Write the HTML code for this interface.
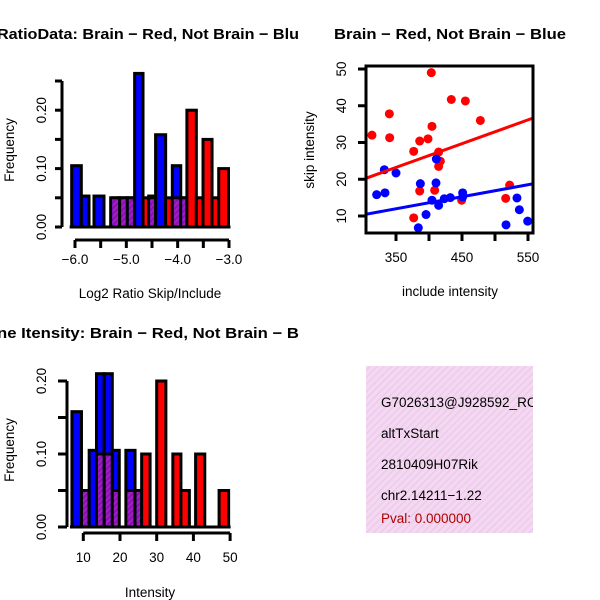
<!DOCTYPE html>
<html><head><meta charset="utf-8"><style>
html,body{margin:0;padding:0;background:#fff;}
svg{display:block;font-family:"Liberation Sans",sans-serif;}
</style></head><body>
<svg id="svg" width="600" height="600" viewBox="0 0 600 600">
<defs>
<pattern id="hatch" width="4" height="4" patternUnits="userSpaceOnUse" patternTransform="rotate(45)">
<rect width="4" height="4" fill="#8a10b4"/><rect width="2" height="4" fill="#a020c0"/></pattern>
<pattern id="pink" width="5" height="5" patternUnits="userSpaceOnUse" patternTransform="rotate(45)">
<rect width="5" height="5" fill="#f6d6f6"/><rect width="1.5" height="5" fill="#e8cfe0"/></pattern>
</defs>
<g id="p1"></g>
<g id="p2"></g>
<g id="p3"></g>
<g id="p4">
<rect x="366" y="366" width="167" height="167" fill="url(#pink)"/>
<svg x="366" y="366" width="167" height="167" overflow="hidden">
<text x="15" y="41" font-size="13.5">G7026313@J928592_RC</text>
<text x="15" y="72" font-size="13.5">altTxStart</text>
<text x="15" y="103" font-size="13.5">2810409H07Rik</text>
<text x="15" y="134" font-size="13.5">chr2.14211−1.22</text>
<text x="15" y="157" font-size="13.5" fill="#b00000">Pval: 0.000000</text>
</svg>
</g>
</svg>
<script>
// ---- Histogram 1 data ----
const h1Breaks=[-6.065,-5.877,-5.727,-5.63,-5.435,-5.305,-5.13,-4.98,-4.838,-4.675,-4.565,-4.43,-4.234,-4.104,-3.94,-3.82,-3.636,-3.506,-3.33,-3.2,-3.01];
const h1Blue=[0.105,0.053,0,0.053,0,0.05,0.05,0.05,0.263,0,0.053,0.158,0,0.105,0.05,0,0,0,0,0];
const h1Red=[0,0,0,0,0,0.05,0.05,0.05,0,0.05,0.05,0,0.05,0.05,0.05,0.2,0.05,0.15,0.05,0.1];
const h1XTicks=[-6,-5.5,-5,-4.5,-4,-3.5,-3];
const h1XLabels=["−6.0","−5.0","−4.0","−3.0"];
const h1XLabelVals=[-6,-5,-4,-3];
const h1YTicks=[0,0.05,0.1,0.15,0.2,0.25];
const h1YLabels=["0.00","0.10","0.20"];
// ---- Scatter data ----
const redX=[313.6,339.9,340.4,376.8,385.9,398.5,403.5,404.5,385.9,376.8,408.6,414.6,417.2,414.6,433.8,455.1,477.8,449.5,516.2,522.2];
const redY=[32.0,37.8,31.3,27.6,30.4,31.0,49.0,34.4,16.8,9.5,17.0,27.4,24.9,23.5,41.7,41.3,36.0,14.3,14.8,18.4];
const blueX=[320.7,333.3,332.3,350,386.9,410.6,411.1,404.5,414.6,423.2,432.3,395.5,383.8,451,451,516.7,533.3,536.9,549.5];
const blueY=[15.8,16.3,22.6,21.7,18.8,19.0,25.5,14.3,12.9,14.7,15.0,10.4,6.8,16.3,15.2,7.6,14.9,11.7,8.6];
const redFit=[0.57,0.0647];
const blueFit=[0.52,0.0327];
const scXTicks=[350,400,450,500,550];
const scXLabels=[350,450,550];
const scYTicks=[10,20,30,40,50];
// ---- Histogram 2 data ----
const h2Breaks=[6.9,9.5,11.6,13.6,15.7,17.9,19.8,21.6,24.1,25.9,28.2,30,32.5,34.4,36.6,38.9,40.6,43.1,47,49.6];
const h2Blue=[0.158,0.05,0.105,0.21,0.21,0.105,0,0.105,0.05,0,0,0,0,0,0,0,0,0,0];
const h2Red=[0,0.05,0,0.1,0.1,0.05,0,0.05,0.05,0.1,0,0.2,0,0.1,0.05,0,0.1,0,0.05];
const h2XTicks=[10,20,30,40,50];
const h2YTicks=[0,0.05,0.1,0.15,0.2];
const h2YLabels=["0.00","0.10","0.20"];

const FS=13.5;
const NS="http://www.w3.org/2000/svg";
function mk(parent,tag,attrs,txt){const e=document.createElementNS(NS,tag);for(const k in attrs)e.setAttribute(k,attrs[k]);if(txt!==undefined)e.textContent=txt;parent.appendChild(e);return e;}

function hist(g,breaks,blue,red,sx,sy,base){
  for(let i=0;i<blue.length;i++){
    const x0=sx(breaks[i]),x1=sx(breaks[i+1]);
    const b=blue[i],r=red[i];
    const lo=Math.min(b,r),hi=Math.max(b,r);
    if(hi<=0)continue;
    const top=mk(g,'rect',{x:x0,y:sy(hi),width:x1-x0,height:base-sy(hi),fill:b>=r?'#0000ff':'#ff0000',stroke:'#000','stroke-width':3});
    
    
    if(lo>0){
      const ov=mk(g,'rect',{x:x0+1.5,y:sy(lo),width:x1-x0-3,height:base-sy(lo)-1.5,fill:'url(#hatch)',stroke:'#000','stroke-width':0});
      
      
      mk(g,'line',{x1:x0,x2:x1,y1:sy(lo),y2:sy(lo),stroke:'#000','stroke-width':3});
    }
  }
  mk(g,'line',{x1:sx(breaks[0])-2,x2:sx(breaks[breaks.length-1])+2,y1:base,y2:base,stroke:'#000','stroke-width':3});
}

// Panel 1
(function(){
  const g=document.getElementById('p1');
  const sx=v=>75+(v+6)*51.33, sy=v=>227-v*584;
  hist(g,h1Breaks,h1Blue,h1Red,sx,sy,227);
  mk(g,'line',{x1:75,x2:229,y1:240,y2:240,stroke:'#000','stroke-width':3});
  h1XTicks.forEach(t=>mk(g,'line',{x1:sx(t),x2:sx(t),y1:240,y2:248,stroke:'#000','stroke-width':3}));
  h1XLabelVals.forEach((t,i)=>{const e=mk(g,'text',{x:sx(t),y:264,'font-size':FS,'text-anchor':'middle'},h1XLabels[i]);});
  mk(g,'line',{x1:62,x2:62,y1:sy(0),y2:sy(0.25),stroke:'#000','stroke-width':3});
  h1YTicks.forEach(t=>mk(g,'line',{x1:55,x2:62,y1:sy(t),y2:sy(t),stroke:'#000','stroke-width':3}));
  [0,0.1,0.2].forEach((t,i)=>{const e=mk(g,'text',{x:0,y:0,'font-size':FS,'text-anchor':'middle',transform:`translate(46,${sy(t)}) rotate(-90)`},h1YLabels[i]);});
  const yt=mk(g,'text',{'font-size':FS,'text-anchor':'middle',transform:'translate(14,150) rotate(-90)'},'Frequency');
  const xt=mk(g,'text',{x:150,y:298,'font-size':FS,'text-anchor':'middle'},'Log2 Ratio Skip/Include');
  const tt=mk(g,'text',{x:-3,y:39,'font-size':15,'font-weight':'bold',textLength:302,lengthAdjust:'spacingAndGlyphs'},'RatioData: Brain − Red, Not Brain − Blu');
})();

// Panel 2
(function(){
  const g=document.getElementById('p2');
  const sx=v=>396+(v-350)*0.66, sy=v=>216-(v-10)*3.675;
  const clip=mk(g,'svg',{x:366,y:66,width:167,height:167,overflow:'hidden'});
  const L=(f,c,n)=>{const x0=300,x1=560;const e=mk(clip,'line',{x1:sx(x0)-366,x2:sx(x1)-366,y1:sy(f[0]+f[1]*x0)-66,y2:sy(f[0]+f[1]*x1)-66,stroke:c,'stroke-width':3});};
  redX.forEach((x,i)=>{const e=mk(clip,'circle',{cx:sx(x)-366,cy:sy(redY[i])-66,r:4.5,fill:'#ff0000'});});
  blueX.forEach((x,i)=>{const e=mk(clip,'circle',{cx:sx(x)-366,cy:sy(blueY[i])-66,r:4.5,fill:'#0000ff'});});
  L(redFit,'#ff0000','fit-line-red');L(blueFit,'#0000ff','fit-line-blue');
  mk(g,'rect',{x:366,y:66,width:167,height:167,fill:'none',stroke:'#000','stroke-width':3});
  scXTicks.forEach(t=>mk(g,'line',{x1:sx(t),x2:sx(t),y1:233,y2:241,stroke:'#000','stroke-width':3}));
  scXLabels.forEach(t=>{const e=mk(g,'text',{x:sx(t),y:262,'font-size':FS,'text-anchor':'middle'},t);});
  scYTicks.forEach(t=>{mk(g,'line',{x1:358,x2:366,y1:sy(t),y2:sy(t),stroke:'#000','stroke-width':3});const e=mk(g,'text',{'font-size':FS,'text-anchor':'middle',transform:`translate(346,${sy(t)}) rotate(-90)`},t);});
  const yt=mk(g,'text',{'font-size':FS,'text-anchor':'middle',transform:'translate(314,150) rotate(-90)'},'skip intensity');
  const xt=mk(g,'text',{x:450,y:296,'font-size':FS,'text-anchor':'middle'},'include intensity');
  const tt=mk(g,'text',{x:334,y:39,'font-size':15,'font-weight':'bold',textLength:232,lengthAdjust:'spacingAndGlyphs'},'Brain − Red, Not Brain − Blue');
})();

// Panel 3
(function(){
  const g=document.getElementById('p3');
  const sx=v=>83.3+(v-10)*3.67, sy=v=>527-v*730;
  hist(g,h2Breaks,h2Blue,h2Red,sx,sy,527);
  mk(g,'line',{x1:sx(10),x2:sx(50),y1:533,y2:533,stroke:'#000','stroke-width':3});
  h2XTicks.forEach(t=>{mk(g,'line',{x1:sx(t),x2:sx(t),y1:533,y2:541,stroke:'#000','stroke-width':3});const e=mk(g,'text',{x:sx(t),y:562,'font-size':FS,'text-anchor':'middle'},t);});
  mk(g,'line',{x1:67,x2:67,y1:sy(0),y2:sy(0.2),stroke:'#000','stroke-width':3});
  h2YTicks.forEach(t=>mk(g,'line',{x1:58,x2:67,y1:sy(t),y2:sy(t),stroke:'#000','stroke-width':3}));
  [0,0.1,0.2].forEach((t,i)=>{const e=mk(g,'text',{'font-size':FS,'text-anchor':'middle',transform:`translate(46,${sy(t)}) rotate(-90)`},h2YLabels[i]);});
  const yt=mk(g,'text',{'font-size':FS,'text-anchor':'middle',transform:'translate(14,450) rotate(-90)'},'Frequency');
  const xt=mk(g,'text',{x:150,y:597,'font-size':FS,'text-anchor':'middle'},'Intensity');
  const tt=mk(g,'text',{x:-3,y:338,'font-size':15,'font-weight':'bold',textLength:302,lengthAdjust:'spacingAndGlyphs'},'ne Itensity: Brain − Red, Not Brain − B');
})();
</script>
</body></html>
